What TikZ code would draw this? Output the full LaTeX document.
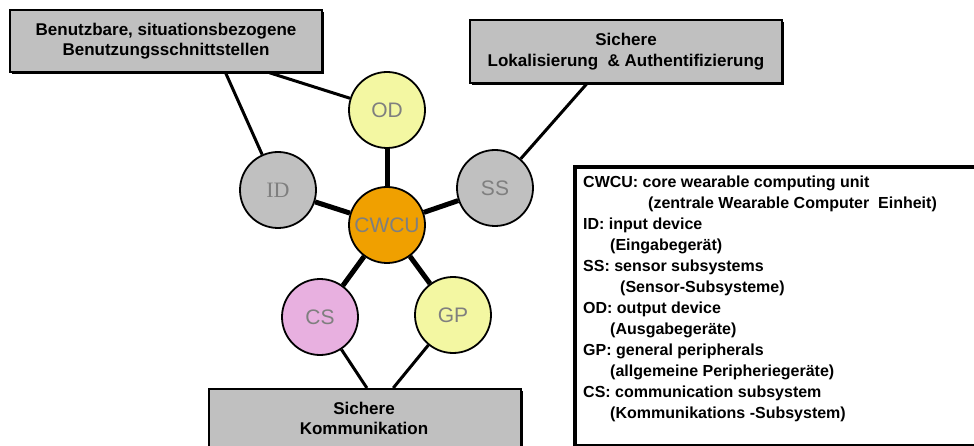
\documentclass[tikz,border=0pt]{standalone}
\usepackage{fontspec}
\setmainfont{Liberation Sans}
\newfontfamily\idserif{Liberation Serif}
\usetikzlibrary{calc,shadows}
\definecolor{boxgray}{HTML}{C0C0C0}
\definecolor{odyellow}{HTML}{F3F7A2}
\definecolor{cwcuorange}{HTML}{F0A000}
\definecolor{cspink}{HTML}{E8B0E0}
\definecolor{labelgray}{HTML}{7F7F7F}
\begin{document}
\begin{tikzpicture}[x=1pt,y=-1pt,
  gbox/.style={draw=black, line width=1.5pt, fill=boxgray, inner sep=0pt,
    align=center, font=\fontsize{17}{20}\selectfont\bfseries,
    drop shadow={shadow xshift=2pt, shadow yshift=-2pt, fill=black, opacity=1}},
  unit/.style={circle, draw=black, line width=1.8pt, minimum size=76pt, inner sep=0pt,
    text=labelgray, font=\fontsize{21}{24}\selectfont},
  spoke/.style={line width=5pt},
  link/.style={line width=3pt}]
\clip (0,0) rectangle (974,446);
\fill[white] (0,0) rectangle (974,446);

% boxes
\node[gbox, minimum width=312pt, minimum height=62pt] (b1) at (166,41)
  {Benutzbare, situationsbezogene\\Benutzungsschnittstellen};
\node[gbox, minimum width=312pt, minimum height=63pt, font=\fontsize{17}{21}\selectfont\bfseries] (b2) at (626,51.5)
  {Sichere\\Lokalisierung\ \ \& Authentifizierung};
\node[gbox, minimum width=312pt, minimum height=82pt, anchor=north] (b3) at (365,388) {};
\node[align=center, font=\fontsize{17}{20}\selectfont\bfseries, inner sep=0pt] (b3t) at (364,418)
  {Sichere\\Kommunikation};

% units
\node[unit, fill=odyellow] (od) at (387,110) {OD};
\node[unit, fill=boxgray, font=\fontsize{22}{24}\selectfont\idserif] (id) at (278,190) {ID};
\node[unit, fill=boxgray] (ss) at (495,188) {SS};
\node[unit, fill=cwcuorange] (cwcu) at (387,225) {CWCU};
\node[unit, fill=cspink] (cs) at (320,317) {CS};
\node[unit, fill=odyellow] (gp) at (453,315) {GP};

% spokes
\draw[spoke] (cwcu) -- (od);
\draw[spoke] (cwcu) -- (id);
\draw[spoke] (cwcu) -- (ss);
\draw[spoke] (cwcu) -- (cs);
\draw[spoke] (cwcu) -- (gp);

% links to boxes
\draw[link] (id) -- ($(b1.south west)!0.69!(b1.south east)$);
\draw[link] (od) -- ($(b1.south west)!0.83!(b1.south east)$);
\draw[link] (ss) -- ($(b2.south west)!0.375!(b2.south east)$);
\draw[link] (cs) -- ($(b3.north west)!0.506!(b3.north east)$);
\draw[link] (gp) -- ($(b3.north west)!0.59!(b3.north east)$);

% legend
\node[draw=black, line width=4pt, fill=white, minimum width=430pt, minimum height=279pt,
  anchor=north west, inner sep=0pt] (legend) at (573,165) {};
\node[anchor=north west, align=left, inner sep=0pt,
  font=\fontsize{16}{21}\selectfont\bfseries] (legendtext) at (583,176)
 {CWCU: core wearable computing unit\\
  \hspace*{65pt}(zentrale Wearable Computer\ \ Einheit)\\
  ID: input device\\
  \hspace*{27pt}(Eingabegerät)\\
  SS: sensor subsystems\\
  \hspace*{37pt}(Sensor-Subsysteme)\\
  OD: output device\\
  \hspace*{27pt}(Ausgabegeräte)\\
  GP: general peripherals\\
  \hspace*{27pt}(allgemeine Peripheriegeräte)\\
  CS: communication subsystem\\
  \hspace*{27pt}(Kommunikations -Subsystem)};
\end{tikzpicture}
\end{document}
